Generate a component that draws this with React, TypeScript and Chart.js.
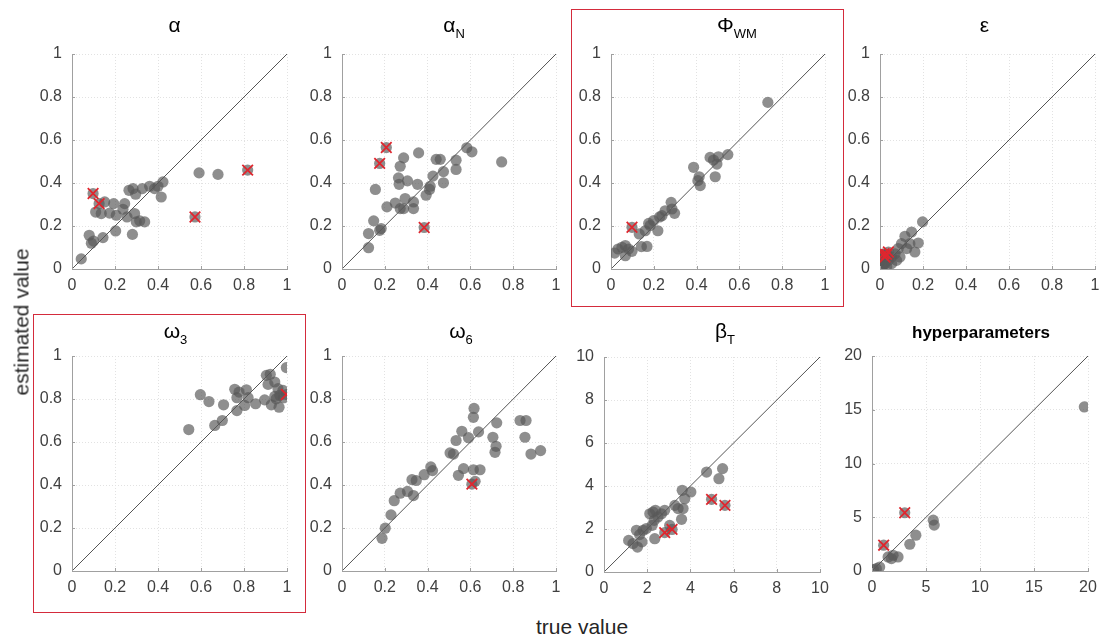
import React, { useEffect, useRef } from "react";
import { Chart, registerables } from "chart.js";
Chart.register(...registerables);

const FONT = '"Liberation Sans", Arial, Helvetica, sans-serif';

// ---------- data (true value, estimated value) ----------
const alphaTrue = [0.043, 0.08, 0.09, 0.1, 0.144, 0.11, 0.136, 0.152, 0.175, 0.194, 0.206, 0.203, 0.237, 0.245, 0.256, 0.265, 0.284, 0.296, 0.291, 0.281, 0.299, 0.315, 0.338, 0.327, 0.361, 0.384, 0.4, 0.423, 0.415, 0.591, 0.679];
const alphaEst = [0.047, 0.157, 0.12, 0.13, 0.146, 0.265, 0.258, 0.312, 0.26, 0.304, 0.25, 0.177, 0.278, 0.304, 0.242, 0.366, 0.374, 0.348, 0.258, 0.161, 0.219, 0.224, 0.219, 0.374, 0.385, 0.374, 0.385, 0.405, 0.335, 0.447, 0.44];
const alphaFlagTrue = [0.098, 0.126, 0.572, 0.817];
const alphaFlagEst = [0.351, 0.304, 0.242, 0.46];

const alphaNTrue = [0.124, 0.124, 0.148, 0.176, 0.183, 0.156, 0.21, 0.249, 0.272, 0.288, 0.264, 0.267, 0.272, 0.288, 0.295, 0.306, 0.334, 0.334, 0.358, 0.353, 0.393, 0.409, 0.412, 0.425, 0.44, 0.459, 0.474, 0.474, 0.533, 0.533, 0.583, 0.607, 0.746];
const alphaNEst = [0.099, 0.165, 0.224, 0.18, 0.188, 0.37, 0.289, 0.307, 0.478, 0.517, 0.424, 0.394, 0.281, 0.281, 0.328, 0.41, 0.281, 0.312, 0.54, 0.394, 0.343, 0.37, 0.385, 0.432, 0.51, 0.51, 0.453, 0.401, 0.463, 0.506, 0.564, 0.545, 0.498];
const alphaNFlagTrue = [0.176, 0.207, 0.384];
const alphaNFlagEst = [0.491, 0.565, 0.193];

const phiTrue = [0.017, 0.033, 0.051, 0.067, 0.067, 0.082, 0.098, 0.132, 0.142, 0.16, 0.168, 0.176, 0.183, 0.199, 0.219, 0.227, 0.238, 0.253, 0.281, 0.285, 0.297, 0.386, 0.406, 0.412, 0.417, 0.463, 0.479, 0.495, 0.502, 0.487, 0.546, 0.733];
const phiEst = [0.074, 0.093, 0.101, 0.109, 0.062, 0.093, 0.082, 0.163, 0.104, 0.178, 0.105, 0.212, 0.202, 0.225, 0.178, 0.242, 0.248, 0.271, 0.31, 0.279, 0.259, 0.473, 0.411, 0.429, 0.388, 0.519, 0.507, 0.488, 0.522, 0.429, 0.532, 0.775];
const phiFlagTrue = [0.098];
const phiFlagEst = [0.194];

const epsTrue = [0.198, 0.147, 0.116, 0.178, 0.162, 0.1, 0.085, 0.07, 0.054, 0.039, 0.023, 0.015, 0.008, 0.031, 0.054, 0.077, 0.093, 0.124, 0.139, 0.003, 0.008];
const epsEst = [0.219, 0.172, 0.152, 0.121, 0.079, 0.118, 0.095, 0.071, 0.056, 0.04, 0.025, 0.017, 0.009, 0.012, 0.025, 0.04, 0.056, 0.095, 0.118, 0.04, 0.059];
const epsFlagTrue = [0.019, 0.031, 0.023, 0.039];
const epsFlagEst = [0.071, 0.068, 0.056, 0.079];

const omega3True = [0.543, 0.597, 0.637, 0.664, 0.699, 0.705, 0.757, 0.767, 0.767, 0.777, 0.811, 0.819, 0.803, 0.854, 0.896, 0.904, 0.922, 0.912, 0.943, 0.927, 0.958, 0.966, 0.963, 0.95, 0.981, 0.997, 0.943, 0.984];
const omega3Est = [0.658, 0.82, 0.788, 0.677, 0.7, 0.773, 0.845, 0.806, 0.746, 0.832, 0.843, 0.806, 0.77, 0.778, 0.796, 0.91, 0.915, 0.868, 0.879, 0.773, 0.848, 0.817, 0.762, 0.801, 0.84, 0.946, 0.812, 0.806];
const omega3FlagTrue = [0.997];
const omega3FlagEst = [0.821];

const omega6True = [0.187, 0.202, 0.229, 0.244, 0.272, 0.306, 0.327, 0.334, 0.347, 0.384, 0.415, 0.423, 0.505, 0.521, 0.533, 0.56, 0.544, 0.568, 0.591, 0.614, 0.617, 0.614, 0.622, 0.638, 0.645, 0.705, 0.723, 0.72, 0.715, 0.832, 0.86, 0.855, 0.883, 0.928];
const omega6Est = [0.152, 0.199, 0.261, 0.327, 0.362, 0.37, 0.425, 0.351, 0.421, 0.448, 0.484, 0.467, 0.549, 0.544, 0.607, 0.65, 0.445, 0.476, 0.62, 0.471, 0.756, 0.715, 0.417, 0.647, 0.471, 0.622, 0.689, 0.58, 0.552, 0.7, 0.7, 0.622, 0.544, 0.56];
const omega6FlagTrue = [0.607];
const omega6FlagEst = [0.404];

const betaTrue = [1.14, 1.34, 1.55, 1.5, 1.65, 1.76, 1.81, 1.96, 2.12, 2.27, 2.38, 2.35, 2.23, 2.32, 2.5, 2.66, 2.81, 3.04, 3.28, 3.43, 3.59, 3.62, 3.74, 3.66, 4.02, 4.75, 5.32, 5.49];
const betaEst = [1.47, 1.32, 1.16, 1.94, 1.74, 1.4, 1.94, 2.02, 2.71, 2.79, 2.87, 1.55, 2.17, 2.4, 2.56, 2.71, 2.87, 2.17, 3.1, 2.95, 2.45, 3.8, 3.41, 2.95, 3.72, 4.65, 4.34, 4.81];
const betaFlagTrue = [2.81, 3.15, 4.98, 5.6];
const betaFlagEst = [1.83, 1.98, 3.38, 3.1];

const hyperTrue = [0.15, 0.4, 0.71, 1.49, 1.8, 1.95, 2.41, 3.5, 4.06, 5.67, 5.76, 19.66];
const hyperEst = [0.12, 0.22, 0.37, 1.31, 1.15, 1.46, 1.31, 2.49, 3.33, 4.73, 4.27, 15.26];
const hyperFlagTrue = [1.08, 3.03];
const hyperFlagEst = [2.4, 5.42];

const axisMax = [1, 1, 1, 1, 1, 1, 10, 20];
const axisStep = [0.2, 0.2, 0.2, 0.2, 0.2, 0.2, 2, 5];
const titleMain = ["α", "α", "Φ", "ε", "ω", "ω", "β", "hyperparameters"];
const titleSub = ["", "N", "WM", "", "3", "6", "T", ""];

// ---------- layout ----------
const PL = 50, PT = 45, PR = 18, PB = 35;
type Box = { L: number; T: number; R: number; B: number; dx: number; tb: number };
const boxes: Box[] = [
  { L: 72, T: 54, R: 287, B: 269, dx: -5, tb: 22 },
  { L: 342, T: 54, R: 556, B: 269, dx: 5, tb: 22 },
  { L: 611, T: 54, R: 825, B: 269, dx: 19, tb: 22 },
  { L: 880, T: 54, R: 1095, B: 269, dx: -3, tb: 22 },
  { L: 72, T: 356, R: 287, B: 571, dx: -4, tb: 18 },
  { L: 342, T: 356, R: 556, B: 571, dx: 12, tb: 18 },
  { L: 604, T: 357, R: 820, B: 572, dx: 13, tb: 19 },
  { L: 872, T: 356, R: 1088, B: 571, dx: 1, tb: 18 },
];

const seriesTrue = [alphaTrue, alphaNTrue, phiTrue, epsTrue, omega3True, omega6True, betaTrue, hyperTrue];
const seriesEst = [alphaEst, alphaNEst, phiEst, epsEst, omega3Est, omega6Est, betaEst, hyperEst];
const flagTrue = [alphaFlagTrue, alphaNFlagTrue, phiFlagTrue, epsFlagTrue, omega3FlagTrue, omega6FlagTrue, betaFlagTrue, hyperFlagTrue];
const flagEst = [alphaFlagEst, alphaNFlagEst, phiFlagEst, epsFlagEst, omega3FlagEst, omega6FlagEst, betaFlagEst, hyperFlagEst];

const AXIS_COLOR = "#a0a0a0";

const titlePlugin = {
  id: "subTitle",
  afterDraw(chart: any, _args: any, opts: any) {
    const { ctx, chartArea } = chart;
    const cx = (chartArea.left + chartArea.right) / 2 + (opts.dx || 0);
    const base = chartArea.top - opts.tb;
    ctx.save();
    ctx.fillStyle = "#000";
    ctx.textBaseline = "alphabetic";
    ctx.textAlign = "left";
    if (opts.bold) {
      ctx.font = `bold 17px ${FONT}`;
      const w = ctx.measureText(opts.text).width;
      ctx.fillText(opts.text, cx - w / 2, base);
    } else {
      ctx.font = `21px ${FONT}`;
      const w1 = ctx.measureText(opts.text).width;
      ctx.font = `13px ${FONT}`;
      const w2 = opts.sub ? ctx.measureText(opts.sub).width : 0;
      const x0 = cx - (w1 + w2) / 2;
      ctx.font = `21px ${FONT}`;
      ctx.fillText(opts.text, x0, base);
      if (opts.sub) {
        ctx.font = `13px ${FONT}`;
        ctx.fillText(opts.sub, x0 + w1, base + 6);
      }
    }
    ctx.restore();
  },
};

const tickMarkPlugin = {
  id: "inTicks",
  afterDraw(chart: any) {
    const { ctx, chartArea, scales } = chart;
    ctx.save();
    ctx.strokeStyle = AXIS_COLOR;
    ctx.lineWidth = 1;
    ctx.beginPath();
    for (const t of scales.x.ticks) {
      const px = Math.round(scales.x.getPixelForValue(t.value)) + 0.5;
      ctx.moveTo(px, chartArea.bottom);
      ctx.lineTo(px, chartArea.bottom - 3);
    }
    for (const t of scales.y.ticks) {
      const py = Math.round(scales.y.getPixelForValue(t.value)) + 0.5;
      ctx.moveTo(chartArea.left, py);
      ctx.lineTo(chartArea.left + 3, py);
    }
    ctx.stroke();
    ctx.restore();
  },
};

function axisOpts(max: number, step: number, isX: boolean) {
  return {
    type: "linear" as const,
    position: isX ? "bottom" : "left",
    min: 0,
    max,
    ticks: {
      stepSize: step,
      color: "#404040",
      font: { family: FONT, size: 16 },
      padding: isX ? 7 : 10,
      maxRotation: 0,
      autoSkip: false,
      callback: (v: any) => String(Math.round(Number(v) * 100) / 100),
    },
    grid: { color: "#e2e2e2", lineWidth: 1, drawTicks: false },
    border: { display: true, color: AXIS_COLOR, width: 1, dash: [1, 2] },
    afterFit: (s: any) => {
      if (isX) s.height = PB;
      else s.width = PL;
    },
  };
}

function Panel({ i }: { i: number }) {
  const ref = useRef<HTMLCanvasElement | null>(null);
  const b = boxes[i];
  const w = b.R - b.L + PL + PR;
  const h = b.B - b.T + PT + PB;
  useEffect(() => {
    if (!ref.current) return;
    const max = axisMax[i];
    const gray = seriesTrue[i].map((x, k) => ({ x, y: seriesEst[i][k] }));
    const flagged = flagTrue[i].map((x, k) => ({ x, y: flagEst[i][k] }));
    const chart = new Chart(ref.current, {
      type: "scatter",
      data: {
        datasets: [
          {
            type: "scatter",
            data: flagged,
            pointStyle: "crossRot",
            pointRadius: 7.5,
            pointBorderColor: "#e0262e",
            pointBorderWidth: 1.8,
            pointBackgroundColor: "rgba(0,0,0,0)",
            order: 0,
          } as any,
          {
            type: "scatter",
            data: gray.concat(flagged),
            pointStyle: "circle",
            pointRadius: 5.6,
            pointBorderWidth: 0,
            pointBorderColor: "rgba(0,0,0,0)",
            pointBackgroundColor: "rgba(88,88,88,0.68)",
            order: 1,
          } as any,
          {
            type: "line",
            data: [
              { x: 0, y: 0 },
              { x: max, y: max },
            ],
            borderColor: "#555555",
            borderWidth: 1,
            pointRadius: 0,
            fill: false,
            order: 2,
          } as any,
        ],
      },
      options: {
        responsive: false,
        animation: false,
        events: [],
        layout: { padding: { left: 0, top: PT, right: PR, bottom: 0 } },
        plugins: {
          legend: { display: false },
          tooltip: { enabled: false },
          title: { display: false },
          subTitle: {
            text: titleMain[i],
            sub: titleSub[i],
            bold: i === 7,
            dx: b.dx,
            tb: b.tb,
          },
        } as any,
        scales: {
          x: axisOpts(max, axisStep[i], true),
          y: axisOpts(max, axisStep[i], false),
        } as any,
      },
      plugins: [titlePlugin, tickMarkPlugin],
    });
    return () => chart.destroy();
  }, []);
  return (
    <canvas
      ref={ref}
      width={w}
      height={h}
      style={{ position: "absolute", left: b.L - PL, top: b.T - PT, width: w, height: h }}
    />
  );
}

export default function App() {
  const redBox = (l: number, t: number, w: number, h: number) => (
    <div
      style={{
        position: "absolute",
        left: l,
        top: t,
        width: w,
        height: h,
        border: "1.5px solid #d42b3c",
        boxSizing: "border-box",
        pointerEvents: "none",
      }}
    />
  );
  return (
    <div
      style={{
        position: "absolute",
        left: 0,
        top: 0,
        width: 1106,
        height: 638,
        overflow: "hidden",
        background: "#fff",
        fontFamily: FONT,
      }}
    >
      {boxes.map((_, i) => (
        <Panel key={i} i={i} />
      ))}
      {redBox(571, 9, 273, 298)}
      {redBox(33, 314, 273, 299)}
      <div
        style={{
          position: "absolute",
          left: 21,
          top: 322,
          transform: "translate(-50%, -50%) rotate(-90deg)",
          whiteSpace: "nowrap",
          fontSize: 21,
          lineHeight: "21px",
          color: "#262626",
        }}
      >
        estimated value
      </div>
      <div
        style={{
          position: "absolute",
          left: 582,
          top: 616,
          transform: "translateX(-50%)",
          whiteSpace: "nowrap",
          fontSize: 21,
          lineHeight: "21px",
          color: "#262626",
        }}
      >
        true value
      </div>
    </div>
  );
}
